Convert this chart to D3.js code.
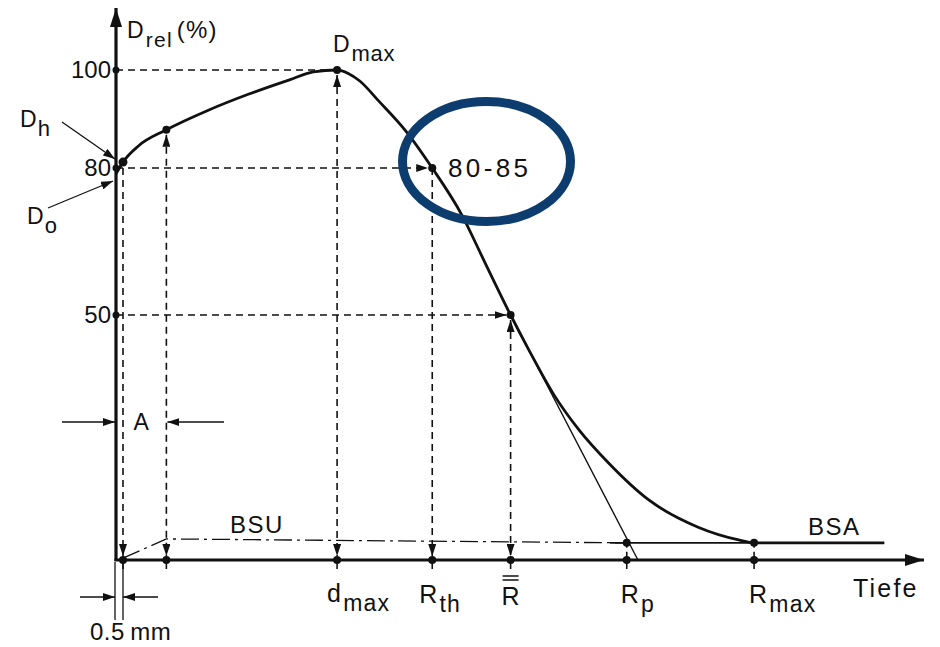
<!DOCTYPE html>
<meta charset="utf-8">
<style>
body { margin: 0; background: #fff; }
svg text { font-family: "Liberation Sans", Arial, Helvetica, sans-serif; fill: #111; }
.dash { fill: none; stroke: #111; stroke-width: 1.6; stroke-dasharray: 7 5; }
.thin { fill: none; stroke: #111; stroke-width: 1.3; }
</style>
<body>
<script src="https://cdn.jsdelivr.net/npm/d3@7/dist/d3.min.js"></script>
<script>

// depth dose curve, depth in mm, dose in % of Dmax
var curveDepth = [0, 0.5, 1.6, 3.6, 6.6, 9.5, 12.4, 14.1, 15.8, 16.6, 17.4, 18.8, 20.7, 22.6, 24.7, 26.4, 28.2, 29.5, 31.3, 33.1, 35.2, 38.1, 41.6, 44.5, 45.6, 54.9];
var curveDose  = [78.8, 81.2, 84.5, 87.8, 91.8, 95.1, 98.0, 99.6, 100, 99.3, 97.8, 93.6, 87.6, 80, 70.5, 60.5, 50, 42.9, 33.7, 26.5, 19.8, 12.2, 6.7, 4.1, 3.5, 3.5];

// marked depths on the x axis
var markKeys  = ["h", "A", "dmax", "Rth", "Rbar", "Rp", "Rmax"];
var markDepth = [0.5, 3.6, 15.8, 22.6, 28.2, 36.5, 45.6];
var markDose  = [80, 87.8, 100, 80, 50, 3.5, 3.5];

// dose levels on the y axis
var yTicks = [100, 80, 50];
var levelDepth = [15.8, 22.6, 28.2];

// bremsstrahlung background (BSU dash-dot, BSA solid) and tangent at R50
var bsuDepth = [0.5, 3.6, 36.5];
var bsuDose  = [0.4, 4.3, 3.5];
var bsaDepth = [35.3, 54.9];
var bsaDose  = [3.5, 3.5];
var tanDepth = [28.2, 37.3];
var tanDose  = [50, 0];

var width = 940, height = 647;

var svg = d3.select("body").append("svg")
    .attr("width", width)
    .attr("height", height);

var x = d3.scaleLinear().domain([0, 57.6]).range([116, 922]);
var y = d3.scaleLinear().domain([0, 100]).range([560, 70]);

var defs = svg.append("defs");
function arrowMarker(id, len, half) {
  defs.append("marker")
      .attr("id", id)
      .attr("markerUnits", "userSpaceOnUse")
      .attr("viewBox", "0 0 " + len + " " + (half * 2))
      .attr("refX", len).attr("refY", half)
      .attr("markerWidth", len).attr("markerHeight", half * 2)
      .attr("orient", "auto-start-reverse")
    .append("path")
      .attr("d", "M0,0L" + len + "," + half + "L0," + (half * 2) + "Z")
      .attr("fill", "#111");
}
arrowMarker("arr", 12, 4);
arrowMarker("big", 19, 6);

var line = d3.line().x(function(d) { return x(d[0]); }).y(function(d) { return y(d[1]); });

// axes
svg.append("line")
    .attr("x1", x(0)).attr("y1", y(0) + 1)
    .attr("x2", x(0)).attr("y2", 8)
    .attr("stroke", "#111").attr("stroke-width", 3.2)
    .attr("marker-end", "url(#big)");
svg.append("line")
    .attr("x1", x(0) - 1.5).attr("y1", y(0))
    .attr("x2", 924).attr("y2", y(0))
    .attr("stroke", "#111").attr("stroke-width", 3.2)
    .attr("marker-end", "url(#big)");

var yAxis = d3.axisLeft(y).tickValues(yTicks).tickSize(0).tickPadding(5);
var ya = svg.append("g")
    .attr("transform", "translate(" + x(0) + ",0)")
    .call(yAxis);
ya.select(".domain").remove();
ya.selectAll("text")
    .style("font-family", "'Liberation Sans', Arial, sans-serif")
    .style("font-size", "24px")
    .attr("fill", "#111");

// horizontal dashed lines from the dose levels
yTicks.forEach(function(v, i) {
  var l = svg.append("line").attr("class", "dash")
      .attr("x1", x(0)).attr("y1", y(v))
      .attr("x2", x(levelDepth[i]) - (i === 0 ? 0 : 4)).attr("y2", y(v));
  if (i > 0) l.attr("marker-end", "url(#arr)");
  svg.append("circle").attr("cx", x(0)).attr("cy", y(v)).attr("r", 3.5).attr("fill", "#111");
});

// vertical dashed lines down to the axis
var upArrow = { h: false, A: true, dmax: true, Rth: false, Rbar: true };
markKeys.forEach(function(k, i) {
  var xx = x(markDepth[i]);
  if (k === "Rp" || k === "Rmax") {
    svg.append("line").attr("class", "dash").style("stroke-dasharray", "5 4")
        .attr("x1", xx).attr("y1", y(markDose[i])).attr("x2", xx).attr("y2", y(0));
  } else {
    var l = svg.append("line").attr("class", "dash")
        .attr("x1", xx).attr("y1", y(markDose[i]) + (upArrow[k] ? 5 : 0))
        .attr("x2", xx).attr("y2", y(0) - 4)
        .attr("marker-end", "url(#arr)");
    if (upArrow[k]) l.attr("marker-start", "url(#arr)");
  }
  svg.append("line").attr("stroke", "#111").attr("stroke-width", 1.6)
      .attr("x1", xx).attr("y1", y(0)).attr("x2", xx).attr("y2", y(0) + 9);
  svg.append("circle").attr("cx", xx).attr("cy", y(0)).attr("r", 4).attr("fill", "#111");
});

// background lines and tangent
svg.append("path").attr("class", "thin")
    .attr("d", line(d3.zip(bsuDepth, bsuDose)))
    .style("stroke-dasharray", "18 5 3 5");
svg.append("path").attr("class", "thin").style("stroke-width", 1.8)
    .attr("d", line(d3.zip(bsaDepth, bsaDose)));
svg.append("path").attr("class", "thin").style("stroke-width", 1.4)
    .attr("d", line(d3.zip(tanDepth, tanDose)));

// the depth dose curve
svg.append("path")
    .attr("d", line.curve(d3.curveMonotoneX)(d3.zip(curveDepth, curveDose)))
    .attr("fill", "none").attr("stroke", "#111").attr("stroke-width", 2.8);

// dots on the curve
markKeys.forEach(function(k, i) {
  if (k === "h") return;
  svg.append("circle").attr("cx", x(markDepth[i])).attr("cy", y(markDose[i]))
      .attr("r", 4).attr("fill", "#111");
});
svg.append("circle").attr("cx", x(0.5)).attr("cy", y(curveDose[1])).attr("r", 4.5).attr("fill", "#111");

// labels with subscripts
function label(px, py, main, sub, size, subSize, spacing) {
  var t = svg.append("text").attr("x", px).attr("y", py)
      .style("font-size", size + "px")
      .style("letter-spacing", (spacing || 0) + "px");
  t.append("tspan").text(main);
  if (sub) t.append("tspan").attr("dy", 9).attr("dx", 1).style("font-size", subSize + "px").text(sub);
  return t;
}

var yTitle = label(127, 38, "D", "rel", 23, 21, 1.2);
yTitle.append("tspan").attr("dy", -9).attr("dx", 4).style("font-size", "24px").text("(%)");
label(333, 52, "D", "max", 23, 22, 0.8);
label(20, 127, "D", "h", 23, 22);
label(27, 224, "D", "o", 23, 22);

// bottom labels
label(x(15.8) - 10, 602, "d", "max", 25, 23, 1.2);
label(x(22.6) - 13, 603, "R", "th", 25, 23, 1.2);
label(x(36.5) - 6, 603, "R", "p", 25, 23, 1.2);
label(x(45.6) - 5, 603, "R", "max", 25, 23, 1.2);
svg.append("text").attr("x", x(28.2)).attr("y", 605).attr("text-anchor", "middle")
    .style("font-size", "25px").text("R");
[576, 580].forEach(function(yy) {
  svg.append("line").attr("stroke", "#111").attr("stroke-width", 1.5)
      .attr("x1", x(28.2) - 8).attr("x2", x(28.2) + 8).attr("y1", yy).attr("y2", yy);
});
svg.append("text").attr("x", 853).attr("y", 597)
    .style("font-size", "25px").style("letter-spacing", "2.2px").text("Tiefe");

svg.append("text").attr("x", 230).attr("y", 533)
    .style("font-size", "24px").style("letter-spacing", "1.5px").text("BSU");
svg.append("text").attr("x", 808).attr("y", 535)
    .style("font-size", "24px").style("letter-spacing", "1.5px").text("BSA");

// pointer arrows for Dh and D0
svg.append("line").attr("class", "thin")
    .attr("x1", 62).attr("y1", 122).attr("x2", 115).attr("y2", 159)
    .attr("marker-end", "url(#arr)");
svg.append("line").attr("class", "thin")
    .attr("x1", 48).attr("y1", 208).attr("x2", 113).attr("y2", 181)
    .attr("marker-end", "url(#arr)");

// width A between the axis and the second marker
var aY = 422;
svg.append("line").attr("class", "thin")
    .attr("x1", 62).attr("y1", aY).attr("x2", x(0) - 1).attr("y2", aY)
    .attr("marker-end", "url(#arr)");
svg.append("line").attr("class", "thin")
    .attr("x1", 224).attr("y1", aY).attr("x2", x(3.6) + 1).attr("y2", aY)
    .attr("marker-end", "url(#arr)");
svg.append("text").attr("x", (x(0) + x(3.6)) / 2).attr("y", aY + 8)
    .attr("text-anchor", "middle").style("font-size", "23px").text("A");

// 0.5 mm gap
[x(0) - 1, x(0.5)].forEach(function(xx) {
  svg.append("line").attr("class", "thin").attr("x1", xx).attr("x2", xx).attr("y1", 562).attr("y2", 620);
});
svg.append("line").attr("class", "thin")
    .attr("x1", 80).attr("y1", 597).attr("x2", x(0) - 1).attr("y2", 597)
    .attr("marker-end", "url(#arr)");
svg.append("line").attr("class", "thin")
    .attr("x1", 158).attr("y1", 597).attr("x2", x(0.5)).attr("y2", 597)
    .attr("marker-end", "url(#arr)");
svg.append("text").attr("x", 90).attr("y", 640)
    .style("font-size", "24px").style("letter-spacing", "0.5px").text("0.5\u2009mm");

// highlighted therapeutic range
svg.append("ellipse")
    .attr("cx", 486.5).attr("cy", 161.5).attr("rx", 84).attr("ry", 60)
    .attr("fill", "none").attr("stroke", "#0d3d6e").attr("stroke-width", 9);
svg.append("text").attr("x", 448).attr("y", 177)
    .attr("textLength", 80).attr("lengthAdjust", "spacing")
    .style("font-size", "26px").text("80-85");

</script>
